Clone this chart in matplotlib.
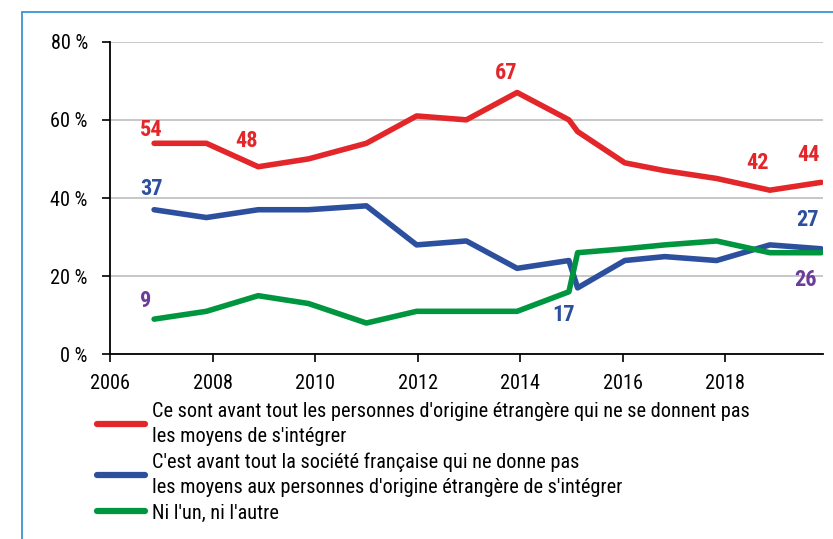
import matplotlib
matplotlib.use("Agg")
import matplotlib.pyplot as plt
from matplotlib import font_manager
from matplotlib.patches import Rectangle

names = {f.name for f in font_manager.fontManager.ttflist}
FONT = "Liberation Sans"
for cand in ["Liberation Sans Narrow", "Roboto Condensed", "Archivo Narrow",
             "PT Sans Narrow", "IBM Plex Sans Condensed", "Fira Sans Condensed"]:
    if cand in names:
        FONT = cand
        break
plt.rcParams["font.family"] = [FONT, "DejaVu Sans"]

# ---- data ----
years = [2006.86, 2007.88, 2008.89, 2009.87, 2011.0, 2011.98, 2012.95, 2013.94,
         2014.95, 2015.12, 2016.04, 2016.82, 2017.83, 2018.87, 2019.87]
red = [54, 54, 48, 50, 54, 61, 60, 67, 60, 57, 49, 47, 45, 42, 44]
blue = [37, 35, 37, 37, 38, 28, 29, 22, 24, 17, 24, 25, 24, 28, 27]
green = [9, 11, 15, 13, 8, 11, 11, 11, 16, 26, 27, 28, 29, 26, 26]
labels = [
    "Ce sont avant tout les personnes d'origine étrangère qui ne se donnent pas\nles moyens de s'intégrer",
    "C'est avant tout la société française qui ne donne pas\nles moyens aux personnes d'origine étrangère de s'intégrer",
    "Ni l'un, ni l'autre",
]
xticks = [2006, 2008, 2010, 2012, 2014, 2016, 2018]
yticks = [0, 20, 40, 60, 80]

RED, BLUE, GREEN, PURPLE = "#e3262a", "#2c4f9e", "#00963f", "#6b3d99"

fig = plt.figure(figsize=(8.33, 5.39), dpi=100)
# outer blue frame
fig.patches.append(Rectangle((22 / 833, -0.1), 1.2, 1 - 12 / 539 + 0.1,
                             transform=fig.transFigure, fill=False,
                             edgecolor="#2a8ad0", linewidth=1.2))

ax = fig.add_axes([110 / 833, 1 - 354.3 / 539, (822.7 - 110) / 833, (354.3 - 41.7) / 539])
ax.set_xlim(2006, 2019.9)
ax.set_ylim(0, 80)

lw = 4.0
kw = dict(lw=lw, solid_capstyle="round", solid_joinstyle="round", zorder=3)
l1, = ax.plot(years, red, color=RED, **kw)
l2, = ax.plot(years, blue, color=BLUE, **kw)
l3, = ax.plot(years, green, color=GREEN, **kw)

ax.set_yticks(yticks)
ax.set_yticklabels([f"{v} %" for v in yticks])
ax.set_xticks(xticks)
ax.set_xticklabels([str(v) for v in xticks])
ax.tick_params(axis="both", labelsize=14.6, colors="black", direction="out", length=6, width=1.2)
ax.tick_params(axis="x", pad=8.5)
ax.tick_params(axis="y", pad=10)
ax.grid(axis="y", color="#bdbdbd", lw=1.2)
ax.set_axisbelow(True)
for s in ["top", "right"]:
    ax.spines[s].set_visible(False)
for s in ["left", "bottom"]:
    ax.spines[s].set_linewidth(1.3)

px = 0.72  # points per pixel

def lab(series, i, dx, dy, color):
    ax.annotate(str(series[i]), (years[i], series[i]), xytext=(dx * px, dy * px),
                textcoords="offset points", ha="center", va="center",
                fontsize=16, fontweight="bold", color=color, zorder=4)

lab(red, 0, -3, 13.5, RED)
lab(red, 2, -12, 26, RED)
lab(red, 7, -11, 19.5, RED)
lab(red, 13, -12.5, 27, RED)
lab(red, 14, -13, 27, RED)
lab(blue, 0, -3, 21, BLUE)
lab(blue, 9, -14, -27.5, BLUE)
lab(blue, 14, -13.7, 28.5, BLUE)
lab(green, 0, -8.5, 18.5, PURPLE)
lab(green, 14, -16, -27, PURPLE)

leg = fig.legend([l1, l2, l3], labels, loc="upper left", bbox_to_anchor=(97 / 833, 1 - 402 / 539),
                 frameon=False, fontsize=14.6, handlelength=2.35, handletextpad=0.35,
                 labelspacing=0.32, borderpad=0, borderaxespad=0)
for t in leg.get_texts():
    t.set_linespacing(1.4)
for h in leg.get_lines():
    h.set_linewidth(4.5)

fig.savefig("out.png", dpi=100)
